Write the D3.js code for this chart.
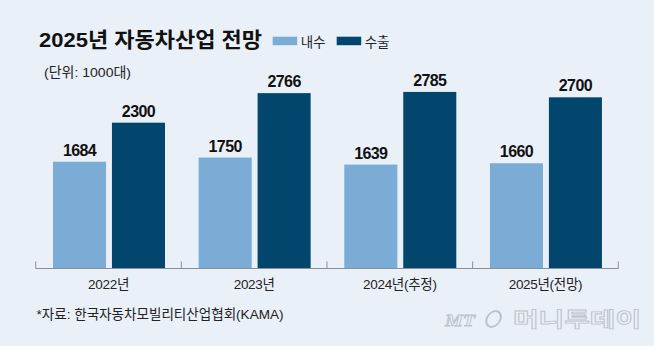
<!DOCTYPE html>
<html><head><meta charset="utf-8">
<script src="https://cdn.jsdelivr.net/npm/d3@7"></script>
<style>
html,body{margin:0;padding:0;background:#eaf0f8;}
svg{display:block;}
</style></head>
<body>
<svg id="chart" width="654" height="346"></svg>
<script>
const categories = ["2022년", "2023년", "2024년(추정)", "2025년(전망)"];
const seriesNames = ["내수", "수출"];
const domestic = [1684, 1750, 1639, 1660];
const exportVals = [2300, 2766, 2785, 2700];
const colors = ["#7aacd6", "#02466e"];

const title = "2025년 자동차산업 전망";
const unitText = "(단위: 1000대)";
const sourceText = "*자료: 한국자동차모빌리티산업협회(KAMA)";

const svg = d3.select("#chart");
const W = 654, H = 346;
const font = "'Liberation Sans', 'Noto Sans CJK KR', Arial, sans-serif";

svg.append("rect").attr("width", W).attr("height", H).attr("fill", "#eaf0f8");

const x0 = d3.scaleBand().domain(categories).range([35.7, 618.3]).paddingInner(0).paddingOuter(0);
const x1 = d3.scaleBand().domain(seriesNames).range([17.3, 129.3]).paddingInner(0.1).paddingOuter(0);
const y = d3.scaleLinear().domain([0, 3000]).range([268.5, 78.3]);

const data = categories.map((c, i) => ({cat: c, vals: [domestic[i], exportVals[i]]}));

const g = svg.append("g");
const groups = g.selectAll("g.grp").data(data).join("g")
  .attr("class", "grp")
  .attr("transform", d => `translate(${x0(d.cat)},0)`);

groups.selectAll("rect").data(d => d.vals.map((v, j) => ({key: seriesNames[j], v, j}))).join("rect")
  .attr("x", d => x1(d.key))
  .attr("y", d => y(d.v))
  .attr("width", x1.bandwidth())
  .attr("height", d => y(0) - y(d.v))
  .attr("fill", d => colors[d.j]);

groups.selectAll("text.val").data(d => d.vals.map((v, j) => ({key: seriesNames[j], v, j}))).join("text")
  .attr("class", "val")
  .attr("x", d => x1(d.key) + x1.bandwidth() / 2)
  .attr("y", d => y(d.v) - 6)
  .attr("text-anchor", "middle")
  .attr("font-family", font)
  .attr("font-weight", "bold")
  .attr("font-size", 16)
  .attr("letter-spacing", -0.6)
  .attr("fill", "#111")
  .text(d => d.v);

// axis baseline and ticks
const axisY = y(0);
g.append("line")
  .attr("x1", x0.range()[0]).attr("x2", x0.range()[1])
  .attr("y1", axisY).attr("y2", axisY)
  .attr("stroke", "#8a8f96").attr("stroke-width", 1);
const tickXs = categories.map(c => x0(c)).concat([x0.range()[1]]);
g.selectAll("line.tick").data(tickXs).join("line")
  .attr("class", "tick")
  .attr("x1", d => d).attr("x2", d => d)
  .attr("y1", axisY - 7).attr("y2", axisY)
  .attr("stroke", "#8a8f96").attr("stroke-width", 1);

g.selectAll("text.cat").data(categories).join("text")
  .attr("class", "cat")
  .attr("x", d => x0(d) + x0.bandwidth() / 2)
  .attr("y", 288.5)
  .attr("text-anchor", "middle")
  .attr("font-family", font)
  .attr("font-size", 13.5)
  .attr("letter-spacing", -0.3)
  .attr("fill", "#222")
  .text(d => d);

// title
svg.append("text")
  .attr("x", 39).attr("y", 47)
  .attr("font-family", font)
  .attr("font-weight", "bold")
  .attr("font-size", 21)
  .attr("textLength", 223).attr("lengthAdjust", "spacingAndGlyphs")
  .attr("fill", "#111")
  .text(title);

// legend
const legendX = [272.7, 336.7];
seriesNames.forEach((s, i) => {
  svg.append("rect").attr("x", legendX[i]).attr("y", 36.7).attr("width", 24.5).attr("height", 8.5).attr("fill", colors[i]);
  svg.append("text").attr("x", legendX[i] + 28).attr("y", 46.5)
    .attr("font-family", font).attr("font-size", 13.5).attr("fill", "#222").text(s);
});

// unit
svg.append("text")
  .attr("x", 44).attr("y", 77)
  .attr("font-family", font).attr("font-size", 13.5)
  .attr("textLength", 87).attr("lengthAdjust", "spacingAndGlyphs")
  .attr("fill", "#222").text(unitText);

// source
svg.append("text")
  .attr("x", 36.5).attr("y", 318.5)
  .attr("font-family", font).attr("font-size", 13.5)
  .attr("textLength", 247).attr("lengthAdjust", "spacingAndGlyphs")
  .attr("fill", "#222").text(sourceText);

// watermark
const wm = svg.append("g");
wm.append("text").attr("x", 445).attr("y", 326)
  .attr("font-family", "'Liberation Serif', serif").attr("font-style", "italic").attr("font-weight", "bold")
  .attr("font-size", 17).attr("fill", "#eaf0f8").attr("stroke", "#bcc2ca").attr("stroke-width", 0.8)
  .attr("textLength", 30).attr("lengthAdjust", "spacingAndGlyphs").text("MT");
wm.append("ellipse").attr("cx", 493).attr("cy", 319).attr("rx", 7).attr("ry", 8)
  .attr("fill", "none").attr("stroke", "#bcc2ca").attr("stroke-width", 2)
  .attr("transform", "skewX(-15) translate(86,0)");
wm.append("text").attr("x", 513).attr("y", 327)
  .attr("font-family", "'Noto Sans CJK KR', sans-serif").attr("font-weight", "700")
  .attr("font-size", 20).attr("fill", "#eaf0f8").attr("stroke", "#bcc2ca").attr("stroke-width", 0.8)
  .attr("textLength", 128).attr("lengthAdjust", "spacingAndGlyphs").text("머니투데이");
</script>
</body></html>
